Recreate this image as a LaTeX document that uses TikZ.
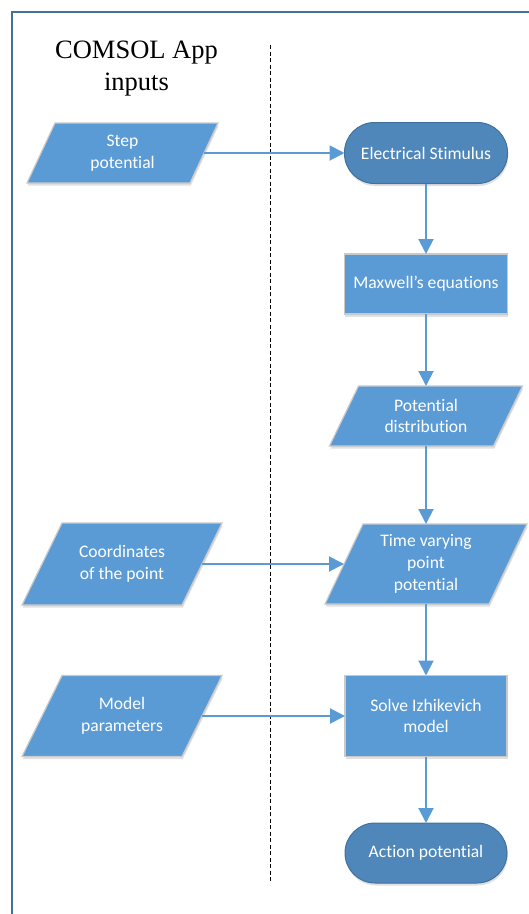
\documentclass[tikz,border=0pt]{standalone}
\usepackage{fontspec}
\setmainfont{Liberation Serif}
\newfontfamily\boxfont[Ligatures=NoCommon]{Carlito}
\usetikzlibrary{arrows.meta,backgrounds,shadows}
\definecolor{boxblue}{HTML}{5B9BD5}
\definecolor{termblue}{HTML}{4F87BB}
\definecolor{termedge}{HTML}{41719C}
\definecolor{frameblue}{HTML}{41719C}
\definecolor{boxedge}{HTML}{C9C9C9}
\tikzset{
  txt/.style={font=\boxfont\fontsize{17.6}{21.8}\selectfont, text=white, align=center, inner sep=0pt, outer sep=0pt},
  softshadow/.style={drop shadow={shadow xshift=0.8pt, shadow yshift=-2.5pt, opacity=0.12, fill=black}},
  procbox/.style={txt, rectangle, fill=boxblue, draw=boxedge, line width=1.2pt, minimum width=162pt, softshadow},
  termbox/.style={txt, rectangle, rounded corners=30pt, fill=termblue, draw=termedge, line width=1pt, minimum width=163pt, minimum height=61pt, softshadow},
  iobox/.style={txt, rectangle},
  ioshape/.style={fill=boxblue, draw=boxedge, line width=1.2pt, softshadow},
  flow/.style={draw=boxblue, line width=2pt, -{Triangle[width=15pt,length=15pt]}},
  titletxt/.style={font=\fontsize{26.5}{32}\selectfont, inner sep=0pt, anchor=base}
}
\begin{document}
\begin{tikzpicture}[x=1pt,y=-1pt]
\useasboundingbox (0,0) rectangle (529,914);
\clip (0,0) rectangle (529,914);

% titles
\node[titletxt] (t1) at (136.5,58) {COMSOL App};
\node[titletxt] (t2) at (136.5,90) {inputs};

% left input nodes (text bodies of parallelograms)
\node[iobox, minimum width=163pt, minimum height=60pt] (sp) at (122.5,153) {Step\\potential};
\node[iobox, minimum width=160pt, minimum height=82pt] (cp) at (122,564) {Coordinates\\of the point};
\node[iobox, minimum width=160pt, minimum height=81pt] (mp) at (122,716) {Model\\parameters};

% right column
\node[termbox] (es) at (426,153) {Electrical Stimulus};
\node[procbox, minimum width=163pt, minimum height=60pt] (mx) at (426,284) {Maxwell’s equations};
\node[iobox, minimum width=164pt, minimum height=60pt] (pd) at (426,416) {Potential\\distribution};
\node[iobox, minimum width=164pt, minimum height=80pt] (tv) at (426,564) {Time varying\\point\\potential};
\node[procbox, minimum height=81pt] (sz) at (426,716) {Solve Izhikevich\\model};
\node[termbox, minimum width=162pt, minimum height=60pt] (ap) at (426,853) {Action potential};

\begin{scope}[on background layer]
  % frame
  \draw[frameblue, line width=2pt] (11.5,11.5) rectangle (560,960);
  % separator
  \draw[black, line width=1pt, dash pattern=on 4pt off 2.5pt] (270,45) -- (270,882);
  % parallelograms
  \foreach \n/\s in {sp/14, cp/20, mp/20, pd/14.5, tv/19}{
    \path[ioshape] ([xshift=\s pt]\n.north west) -- ([xshift=\s pt]\n.north east)
      -- ([xshift=-\s pt]\n.south east) -- ([xshift=-\s pt]\n.south west) -- cycle;
  }
\end{scope}

% connectors
\draw[flow] (sp.east) -- (es.west);
\draw[flow] (es.south) -- (mx.north);
\draw[flow] (mx.south) -- (pd.north);
\draw[flow] (pd.south) -- (tv.north);
\draw[flow] (cp.east) -- (tv.west);
\draw[flow] (tv.south) -- (sz.north);
\draw[flow] (mp.east) -- (sz.west);
\draw[flow] (sz.south) -- (ap.north);
\end{tikzpicture}
\end{document}
